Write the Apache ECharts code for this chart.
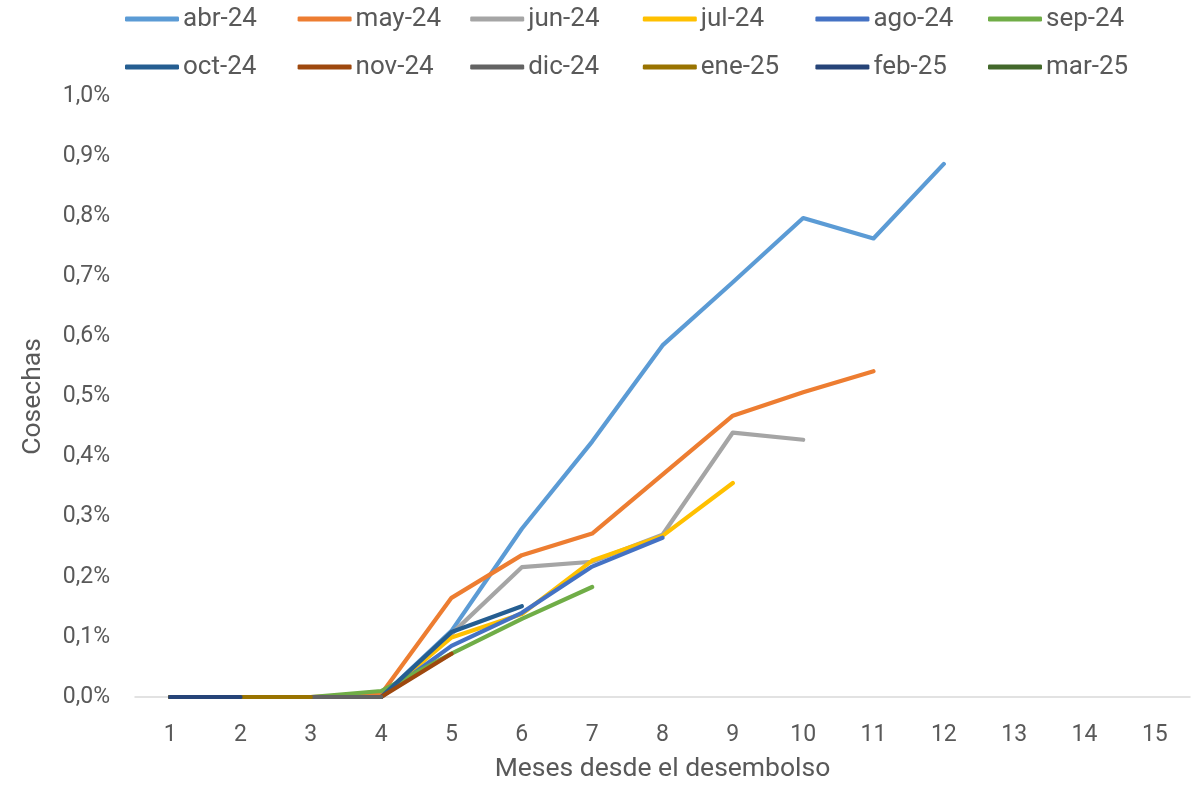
<!DOCTYPE html>
<html>
<head>
<meta charset="utf-8">
<script src="https://cdn.jsdelivr.net/npm/echarts@6/dist/echarts.min.js"></script>
<style>
  html, body { margin: 0; padding: 0; background: #fff; }
  #chart { width: 1199px; height: 788px; }
</style>
</head>
<body>
<div id="chart"></div>
<script>
// Months since disbursement (x axis categories)
const meses = ['1','2','3','4','5','6','7','8','9','10','11','12','13','14','15'];

// Cohort names
const cosechas = ['abr-24','may-24','jun-24','jul-24','ago-24','sep-24',
                  'oct-24','nov-24','dic-24','ene-25','feb-25','mar-25'];

// Cumulative values per cohort, in percent
const abr24 = [0, 0, 0, 0, 0.11, 0.28, 0.425, 0.585, 0.69, 0.797, 0.763, 0.887];
const may24 = [0, 0, 0, 0.005, 0.165, 0.236, 0.272, 0.37, 0.468, 0.507, 0.542];
const jun24 = [0, 0, 0, 0, 0.105, 0.216, 0.225, 0.27, 0.44, 0.428];
const jul24 = [0, 0, 0, 0, 0.099, 0.138, 0.227, 0.268, 0.356];
const ago24 = [0, 0, 0, 0, 0.085, 0.14, 0.217, 0.265];
const sep24 = [0, 0, 0, 0.01, 0.072, 0.13, 0.183];
const oct24 = [0, 0, 0, 0, 0.108, 0.151];
const nov24 = [0, 0, 0, 0, 0.072];
const dic24 = [0, 0, 0, 0];
const ene25 = [0, 0, 0];
const feb25 = [0, 0];
const mar25 = [0];

const valores = [abr24, may24, jun24, jul24, ago24, sep24, oct24, nov24, dic24, ene25, feb25, mar25];

const colores = ['#5B9BD5','#ED7D31','#A5A5A5','#FFC000','#4472C4','#70AD47',
                 '#255E91','#9E480E','#636363','#997300','#264478','#43682B'];

const fuente = 'Roboto';
const gris = '#595959';

// One legend block per cohort, laid out in two rows of six
const legends = cosechas.map((name, i) => ({
  data: [name],
  left: 125 + (i % 6) * 172.6,
  top: i < 6 ? 6 : 54,
  icon: 'roundRect',
  itemWidth: 54,
  itemHeight: 5,
  itemGap: 0,
  padding: 0,
  textStyle: { fontFamily: fuente, fontSize: 26, color: gris, padding: [0, 0, 0, -1] }
}));

const series = cosechas.map((name, i) => ({
  name: name,
  type: 'line',
  data: valores[i],
  symbol: 'none',
  showSymbol: false,
  lineStyle: { width: 4.2, color: colores[i], cap: 'round', join: 'round' },
  itemStyle: { color: colores[i] },
  z: 2 + i
}));

const chart = echarts.init(document.getElementById('chart'), null, { renderer: 'canvas' });
chart.setOption({
  animation: false,
  backgroundColor: '#fff',
  legend: legends,
  grid: { left: 135, right: 9, top: 96, bottom: 85, containLabel: false },
  xAxis: {
    type: 'category',
    data: meses,
    boundaryGap: true,
    name: 'Meses desde el desembolso',
    nameLocation: 'middle',
    nameGap: 59,
    nameTextStyle: { fontFamily: fuente, fontSize: 26.5, color: gris },
    axisLine: { lineStyle: { color: '#D9D9D9', width: 1.5 } },
    axisTick: { show: false },
    axisLabel: { fontFamily: fuente, fontSize: 23, color: gris, margin: 27 },
    splitLine: { show: false }
  },
  yAxis: {
    type: 'value',
    min: 0,
    max: 1,
    interval: 0.1,
    name: 'Cosechas',
    nameLocation: 'middle',
    nameGap: 88,
    nameRotate: 90,
    nameTextStyle: { fontFamily: fuente, fontSize: 26.5, color: gris },
    axisLine: { show: false },
    axisTick: { show: false },
    splitLine: { show: false },
    axisLabel: {
      fontFamily: fuente, fontSize: 23, color: gris, margin: 25,
      formatter: v => v.toFixed(1).replace('.', ',') + '%'
    }
  },
  series: series
});
</script>
</body>
</html>
